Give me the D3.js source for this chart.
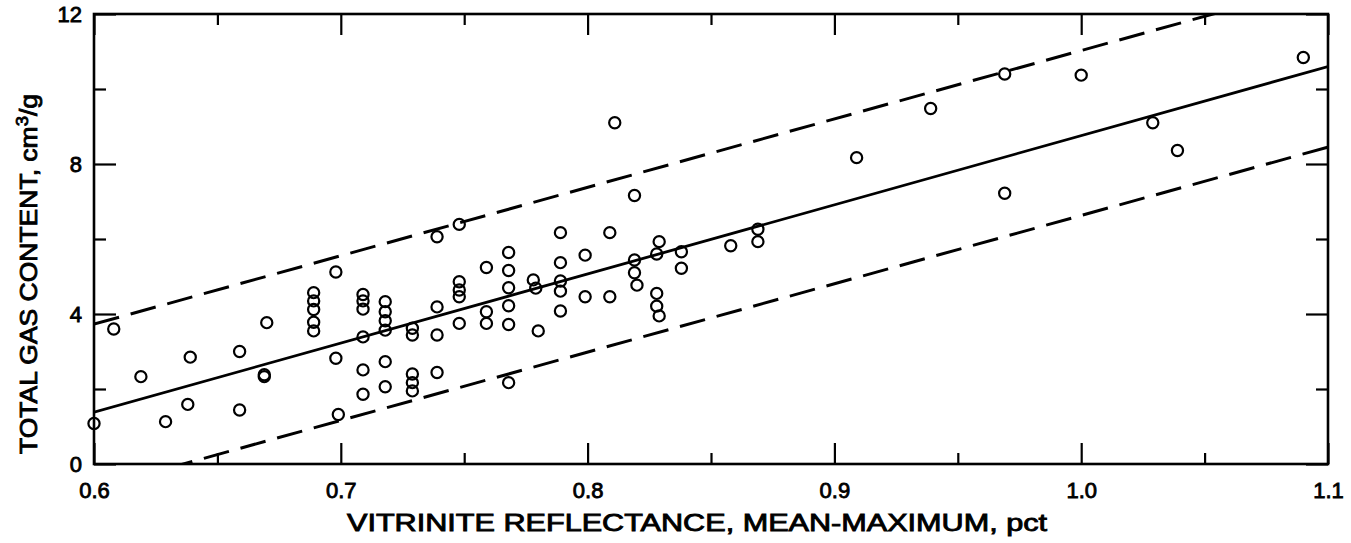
<!DOCTYPE html>
<html>
<head>
<meta charset="utf-8">
<script src="https://cdn.jsdelivr.net/npm/d3@7"></script>
<style>
  html, body { margin: 0; padding: 0; background: #fff; }
  svg { display: block; }
  text { font-family: "Liberation Sans", Arial, sans-serif; fill: #000; stroke: #000; stroke-width: 0.85px; }
</style>
</head>
<body>
<svg id="chart" width="1351" height="543"></svg>
<script>
// Vitrinite reflectance (mean-maximum, pct) of each sample
const reflectance = [
  0.600, 0.608, 0.619, 0.629, 0.639, 0.638, 0.659, 0.659, 0.670, 0.669, 0.669,
  0.689, 0.689, 0.689, 0.689, 0.689,
  0.698, 0.698, 0.699,
  0.709, 0.709, 0.709, 0.709, 0.709, 0.709,
  0.718, 0.718, 0.718, 0.718, 0.718, 0.718,
  0.729, 0.729, 0.729, 0.729, 0.729,
  0.739, 0.739, 0.739, 0.739,
  0.748, 0.748, 0.748, 0.748, 0.748,
  0.759, 0.759, 0.759,
  0.768, 0.768, 0.768, 0.768, 0.768, 0.768,
  0.778, 0.779, 0.780,
  0.789, 0.789, 0.789, 0.789, 0.789,
  0.799, 0.799,
  0.811, 0.809, 0.809,
  0.819, 0.819, 0.819, 0.820,
  0.829, 0.828, 0.828, 0.828, 0.829,
  0.838, 0.838,
  0.858,
  0.869, 0.869,
  0.909, 0.939, 0.969, 0.969, 1.000, 1.029, 1.039, 1.090
];

// Total gas content (cm3/g) of each sample, same order
const gasContent = [
  1.08, 3.60, 2.33, 1.13, 2.85, 1.59, 3.00, 1.44, 3.77, 2.38, 2.33,
  4.57, 4.35, 4.12, 3.78, 3.55,
  5.12, 2.82, 1.32,
  4.52, 4.35, 4.13, 3.39, 2.51, 1.86,
  4.33, 4.06, 3.82, 3.57, 2.73, 2.06,
  3.62, 3.44, 2.40, 2.17, 1.95,
  6.06, 4.19, 3.44, 2.44,
  6.39, 4.86, 4.64, 4.46, 3.75,
  5.24, 4.06, 3.75,
  5.64, 5.16, 4.70, 4.22, 3.72, 2.17,
  4.91, 4.69, 3.55,
  6.17, 5.37, 4.88, 4.61, 4.08,
  5.57, 4.46,
  9.10, 6.17, 4.46,
  7.16, 5.44, 5.10, 4.77,
  5.93, 5.60, 4.55, 4.21, 3.95,
  5.66, 5.22,
  5.82,
  6.26, 5.93,
  8.17, 9.48, 10.40, 7.22, 10.37, 9.10, 8.36, 10.84
];

// Regression line and its upper / lower bounds: [reflectance, gas content] end points
const fitLine   = [[0.600, 1.38], [1.100, 10.60]];
const upperLine = [[0.600, 3.73], [1.100, 12.85]];
const lowerLine = [[0.600, -0.66], [1.100, 8.45]];

// Axis ticks and labels
const xMinorTicks = [0.65, 0.75, 0.85, 0.95, 1.05];
const xMajorTicks = [0.6, 0.7, 0.8, 0.9, 1.0, 1.1];
const xTickLabels = ["0.6", "0.7", "0.8", "0.9", "1.0", "1.1"];
const yMinorTicks = [2, 6, 10];
const yMajorTicks = [0, 4, 8, 12];
const yTickLabels = ["0", "4", "8", "12"];

const xTitle = "VITRINITE REFLECTANCE, MEAN-MAXIMUM, pct";

const svg = d3.select("#chart");
const L = 94, R = 1328, T = 14, B = 464;

const x = d3.scaleLinear().domain([0.6, 1.1]).range([L, R]);
const y = d3.scaleLinear().domain([0, 12]).range([B, T]);

svg.append("defs").append("clipPath").attr("id", "plotClip")
  .append("rect").attr("x", L).attr("y", T).attr("width", R - L).attr("height", B - T);

// Inward ticks on all four sides
function styleAxis(g) {
  g.select(".domain").remove();
  g.selectAll(".tick line").attr("stroke", "#000").attr("stroke-width", 2.2);
}
function styleLabels(g) {
  g.selectAll("text").attr("font-size", 22)
    .attr("font-family", "Liberation Sans, Arial, sans-serif");
}

svg.append("g").attr("transform", `translate(0,${B})`)
  .call(d3.axisBottom(x).tickValues(xMinorTicks).tickSize(-11).tickFormat(""))
  .call(styleAxis);
svg.append("g").attr("transform", `translate(0,${B})`)
  .call(d3.axisBottom(x).tickValues(xMajorTicks).tickSize(-21).tickPadding(18)
    .tickFormat((d, i) => xTickLabels[i]))
  .call(styleAxis)
  .call(styleLabels);

svg.append("g").attr("transform", `translate(0,${T})`)
  .call(d3.axisTop(x).tickValues(xMinorTicks).tickSize(-11).tickFormat(""))
  .call(styleAxis);
svg.append("g").attr("transform", `translate(0,${T})`)
  .call(d3.axisTop(x).tickValues(xMajorTicks).tickSize(-21).tickFormat(""))
  .call(styleAxis);

svg.append("g").attr("transform", `translate(${L},0)`)
  .call(d3.axisLeft(y).tickValues(yMinorTicks).tickSize(-12).tickFormat(""))
  .call(styleAxis);
svg.append("g").attr("transform", `translate(${L},0)`)
  .call(d3.axisLeft(y).tickValues(yMajorTicks).tickSize(-22).tickPadding(12)
    .tickFormat((d, i) => yTickLabels[i]))
  .call(styleAxis)
  .call(styleLabels);

svg.append("g").attr("transform", `translate(${R},0)`)
  .call(d3.axisRight(y).tickValues(yMinorTicks).tickSize(-12).tickFormat(""))
  .call(styleAxis);
svg.append("g").attr("transform", `translate(${R},0)`)
  .call(d3.axisRight(y).tickValues(yMajorTicks).tickSize(-22).tickFormat(""))
  .call(styleAxis);

// Plot frame
svg.append("rect")
  .attr("x", L).attr("y", T).attr("width", R - L).attr("height", B - T)
  .attr("fill", "none").attr("stroke", "#000").attr("stroke-width", 2.6);

// Fitted line and bounds
const line = d3.line().x(d => x(d[0])).y(d => y(d[1]));
const lines = svg.append("g").attr("clip-path", "url(#plotClip)");
lines.append("path").attr("d", line(fitLine))
  .attr("fill", "none").attr("stroke", "#000").attr("stroke-width", 2.8);
[upperLine, lowerLine].forEach(pts => {
  lines.append("path").attr("d", line(pts))
    .attr("fill", "none").attr("stroke", "#000").attr("stroke-width", 3)
    .attr("stroke-dasharray", "26,12");
});

// Sample points
svg.append("g").selectAll("circle")
  .data(reflectance.map((r, i) => [r, gasContent[i]]))
  .join("circle")
  .attr("cx", d => x(d[0])).attr("cy", d => y(d[1]))
  .attr("r", 5.6)
  .attr("fill", "none").attr("stroke", "#000").attr("stroke-width", 2.2);

// Axis titles
svg.append("text")
  .attr("x", 697).attr("y", 531)
  .attr("text-anchor", "middle").attr("font-size", 23)
  .attr("textLength", 700).attr("lengthAdjust", "spacingAndGlyphs")
  .text(xTitle);

const yt = svg.append("text")
  .attr("transform", "translate(37,274) rotate(-90)")
  .attr("text-anchor", "middle").attr("font-size", 23)
  .attr("textLength", 360).attr("lengthAdjust", "spacingAndGlyphs");
yt.append("tspan").text("TOTAL  GAS  CONTENT,  cm");
yt.append("tspan").attr("font-size", 16).attr("dy", -9).text("3");
yt.append("tspan").attr("dy", 9).text("/g");
</script>
</body>
</html>
